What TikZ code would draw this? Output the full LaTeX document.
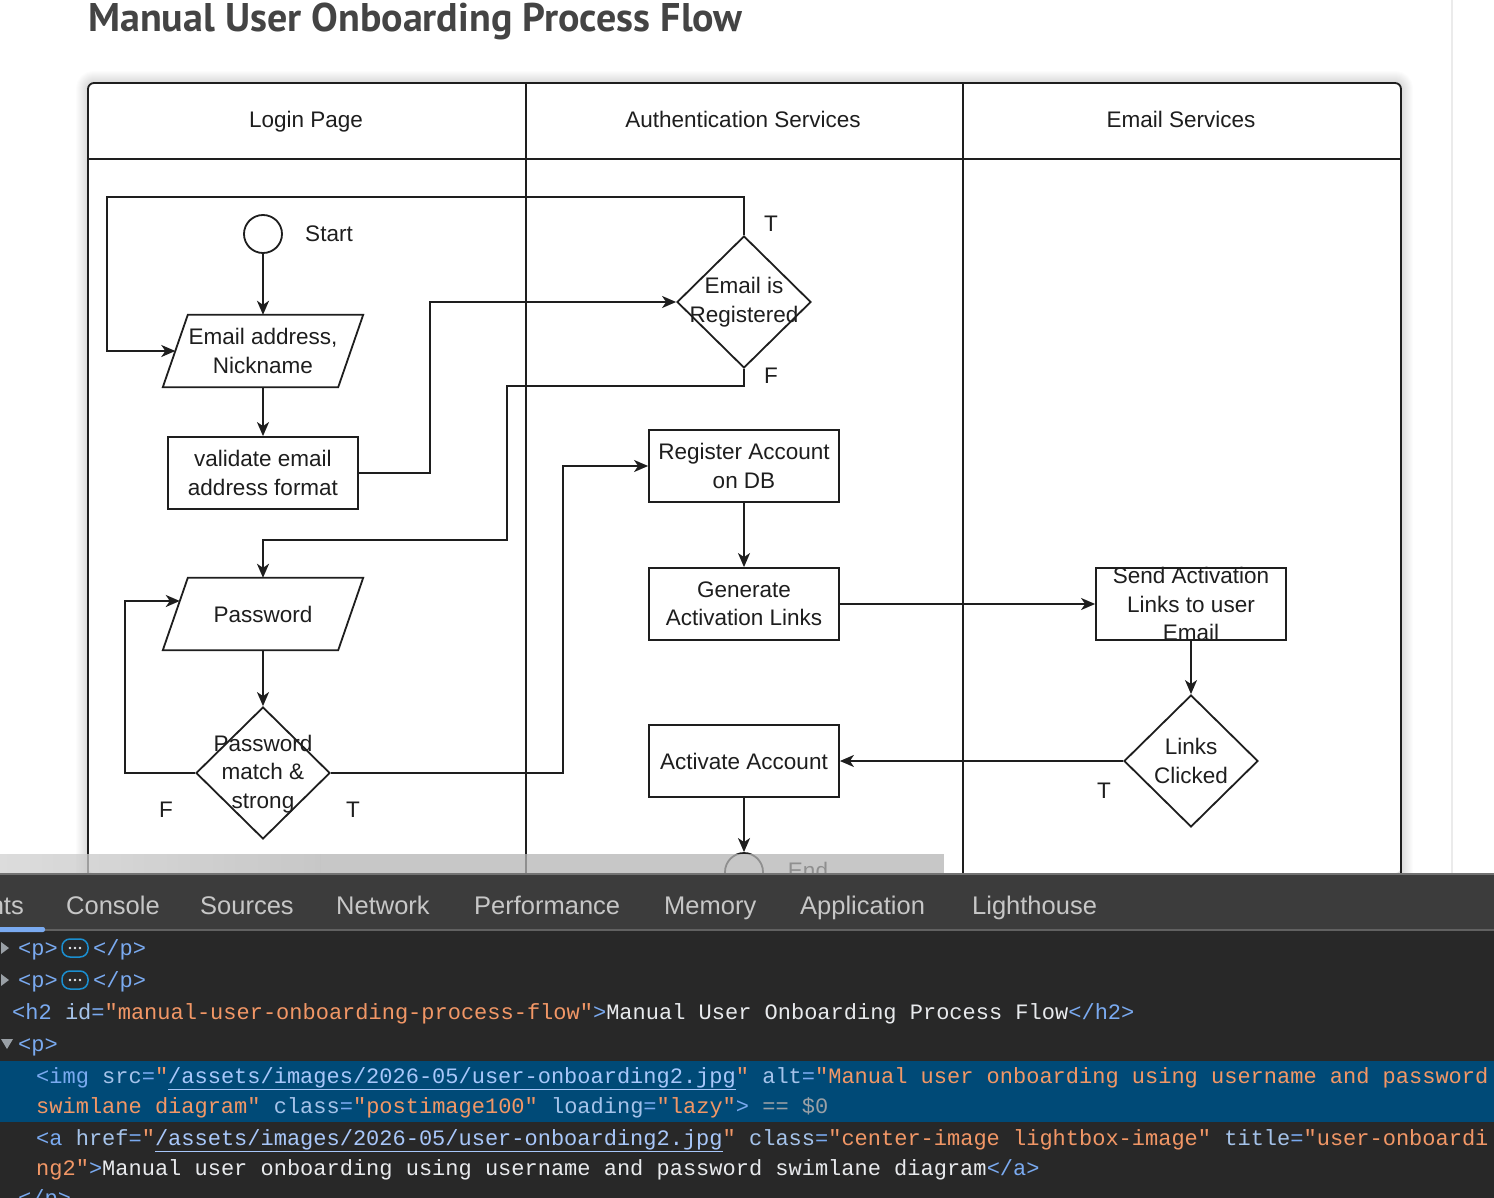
\documentclass[tikz,border=0pt]{standalone}
\usepackage{fontspec}
\setmainfont{Liberation Sans}
\newfontfamily\titlefont{PT Sans}
\newfontfamily\codefont{Liberation Mono}
\usetikzlibrary{positioning,shapes.geometric,arrows.meta,calc}

\definecolor{inkc}{HTML}{1E1E1E}
\definecolor{titlec}{HTML}{444444}
\definecolor{barc}{HTML}{3C3C3C}
\definecolor{panelc}{HTML}{282828}
\definecolor{selc}{HTML}{004A77}
\definecolor{tabc}{HTML}{C7C7C7}
\definecolor{tagc}{HTML}{7AAAF0}
\definecolor{attrc}{HTML}{A5C3EA}
\definecolor{valc}{HTML}{F29766}
\definecolor{txtc}{HTML}{E8EAED}
\definecolor{dimc}{HTML}{9AA0A6}
\definecolor{urlc}{HTML}{A8C7FA}
\definecolor{badgec}{HTML}{1B8FD0}

% code colouring
\newcommand\tg[1]{\textcolor{tagc}{#1}}
\newcommand\an[1]{\textcolor{attrc}{#1}}
\newcommand\av[1]{\textcolor{valc}{#1}}
\newcommand\tx[1]{\textcolor{txtc}{#1}}
\newcommand\lk[1]{\textcolor{urlc}{\underline{#1}}}

\tikzset{
  lane/.style={draw=inkc, line width=1.8pt},
  box/.style={draw=inkc, line width=1.8pt, minimum width=190, minimum height=72, align=center, inner sep=0pt},
  inbox/.style={minimum width=175, minimum height=72, align=center, inner sep=0pt},
  decision/.style={diamond, draw=inkc, line width=1.8pt, minimum width=134, minimum height=132, inner sep=0pt},
  termc/.style={circle, draw=inkc, line width=1.8pt, minimum size=38, inner sep=0pt},
  flow/.style={draw=inkc, line width=1.8pt, -{Stealth[length=14pt,width=12pt,inset=4pt]}},
  txt/.style={align=center},
  head/.style={anchor=base},
  tab/.style={font=\fontsize{25.5}{30}\selectfont, text=tabc, anchor=base west, inner sep=0pt},
  code/.style={font=\codefont\fontsize{22}{26}\selectfont, anchor=base west, inner sep=0pt}
}

\begin{document}
\begin{tikzpicture}[x=1pt,y=-1pt,every node/.style={font=\fontsize{22.5}{28.5}\selectfont, text=inkc}]
\useasboundingbox (0,0) rectangle (1494,1198);
\fill[white] (0,0) rectangle (1494,1198);

% page title
\node[anchor=base west, inner sep=0pt, font=\titlefont\bfseries\fontsize{40}{48}\selectfont, text=titlec] (title) at (88,32) {Manual User Onboarding Process Flow};
\draw[black!8, line width=2pt] (1452,0) -- (1452,873);

% soft shadow and swimlane frame
\foreach \w in {2,4,...,24}
  \draw[black, opacity=0.012, line width=\w pt, rounded corners=6] (88,873) -- (88,83) -- (1401,83) -- (1401,873);
\fill[white, rounded corners=6] (88,873) -- (88,83) -- (1401,83) -- (1401,873) -- cycle;
\draw[lane, rounded corners=6] (88,873) -- (88,83) -- (1401,83) -- (1401,873);
\draw[lane] (88,159) -- (1401,159);
\draw[lane] (526,83) -- (526,873);
\draw[lane] (963,83) -- (963,873);

\node[head] (hlogin) at (306,128) {Login Page};
\node[head] (hauth) at (743,128) {Authentication Services};
\node[head] (hmail) at (1181,128) {Email Services};

% Login Page
\node[termc] (start) at (263,234) {};
\node (startlbl) at (329,234) {Start};
\node[inbox] (email) at (263,351) {Email address,\\Nickname};
\draw[lane] ([xshift=12.5pt]email.north west) -- ([xshift=12.5pt]email.north east) -- ([xshift=-12.5pt]email.south east) -- ([xshift=-12.5pt]email.south west) -- cycle;
\node[box] (val) at (263,473) {validate email\\address format};
\node[inbox] (pw) at (263,614) {Password};
\draw[lane] ([xshift=12.5pt]pw.north west) -- ([xshift=12.5pt]pw.north east) -- ([xshift=-12.5pt]pw.south east) -- ([xshift=-12.5pt]pw.south west) -- cycle;
\node[decision] (pwd) at (263,773) {};
\node[txt] (pwdtxt) at (263,774) {Password\\match \&\\strong};
\node (pwdf) at (166,810) {F};
\node (pwdt) at (353,810) {T};

% Authentication Services
\node[decision] (reg) at (744,302) {};
\node[txt] (regtxt) at (744,302) {Email is\\Registered};
\node (regt) at (771,224) {T};
\node (regf) at (771,376) {F};
\node[box] (dbreg) at (744,466) {Register Account\\on DB};
\node[box] (gen) at (744,604) {Generate\\Activation Links};
\node[box] (act) at (744,761) {Activate Account};
\node[termc] (endc) at (744,872) {};
\node (endlbl) at (808,870) {End};

% Email Services
\node[box] (send) at (1191,604) {};
\node[txt] (sendtxt) at (1191,604) {Send Activation\\Links to user\\Email};
\node[decision] (clk) at (1191,761) {};
\node[txt] (clktxt) at (1191,761) {Links\\Clicked};
\node (clkt) at (1104,791) {T};

% connectors
\coordinate (pwin) at ([xshift=4.5pt,yshift=13pt]pw.west);
\draw[flow] (start) -- (email.north);
\draw[flow] (reg.north) |- (107,197) |- (email.west);
\draw[flow] (email.south) -- (val.north);
\draw[flow] (val.east) -| (430,302) -- (reg.west);
\draw[flow] (reg.south) |- (507,386) |- (263,540) -- (pw.north);
\draw[flow] (pw.south) -- (pwd.north);
\draw[flow] (pwd.west) -| (125,601) -- (pwin);
\draw[flow] (pwd.east) -| (563,466) -- (dbreg.west);
\draw[flow] (dbreg) -- (gen);
\draw[flow] (gen) -- (send);
\draw[flow] (send) -- (clk);
\draw[flow] (clk.west) -- (act.east);
\draw[flow] (act) -- (endc);

% inspector overlay bar
\shade[left color=black!18, right color=black!29, opacity=0.75] (0,854) rectangle (320,873);
\fill[black!29, opacity=0.75] (320,854) rectangle (944,873);

% devtools
\begin{scope}
\clip (0,873) rectangle (1494,1198);
\fill[barc] (0,873) rectangle (1494,930);
\draw[black!55, line width=1.5pt] (0,874) -- (1494,874);
\fill[panelc] (0,930) rectangle (1494,1198);
\draw[black!62, line width=1.5pt] (0,930) -- (1494,930);
\fill[tagc, rounded corners=2] (-4,927) rectangle (45,932);

\node[tab, anchor=base east] (telem) at (24,914) {Elements};
\node[tab] (tcons) at (66,914) {Console};
\node[tab] (tsrc) at (200,914) {Sources};
\node[tab] (tnet) at (336,914) {Network};
\node[tab] (tperf) at (474,914) {Performance};
\node[tab] (tmem) at (664,914) {Memory};
\node[tab] (tapp) at (800,914) {Application};
\node[tab] (tlh) at (972,914) {Lighthouse};

\fill[selc] (0,1061) rectangle (1494,1122);

% collapsed paragraphs
\foreach \y/\n in {948/1,980/2} {
  \fill[dimc] (1,\y-6) -- (9,\y) -- (1,\y+6) -- cycle;
  \node[code] (popen\n) at (18,\y+7) {\tg{<p>}};
  \node[draw=badgec, line width=1.5pt, rounded corners=8pt, minimum width=26, minimum height=18, inner sep=0pt] (dots\n) at (75,\y) {};
  \foreach \dx in {-5,0,5} \fill[txtc] ($(dots\n)+(\dx,0)$) circle (1.4);
  \node[code] (pclose\n) at (93,\y+7) {\tg{</p>}};
}
\node[code] (lh2) at (12,1019) {\tg{<h2} \an{id}\tg{=}\av{"manual-user-onboarding-process-flow"}\tg{>}\tx{Manual User Onboarding Process Flow}\tg{</h2>}};
\fill[dimc] (1,1039) -- (13,1039) -- (7,1049) -- cycle;
\node[code] (lp) at (18,1051) {\tg{<p>}};
\node[code] (limg) at (36,1083) {\tg{<img} \an{src}\tg{=}\av{"}\lk{/assets/images/2026-05/user-onboarding2.jpg}\av{"} \an{alt}\tg{=}\av{"Manual user onboarding using username and password}};
\node[code] (limgb) at (36,1113) {\av{swimlane diagram"} \an{class}\tg{=}\av{"postimage100"} \an{loading}\tg{=}\av{"lazy"}\tg{>} \textcolor{dimc}{== \$0}};
\node[code] (la) at (36,1145) {\tg{<a} \an{href}\tg{=}\av{"}\lk{/assets/images/2026-05/user-onboarding2.jpg}\av{"} \an{class}\tg{=}\av{"center-image lightbox-image"} \an{title}\tg{=}\av{"user-onboardi}};
\node[code] (lab) at (36,1175) {\av{ng2"}\tg{>}\tx{Manual user onboarding using username and password swimlane diagram}\tg{</a>}};
\node[code] (lpend) at (18,1205) {\tg{</p>}};
\end{scope}
\end{tikzpicture}
\end{document}
